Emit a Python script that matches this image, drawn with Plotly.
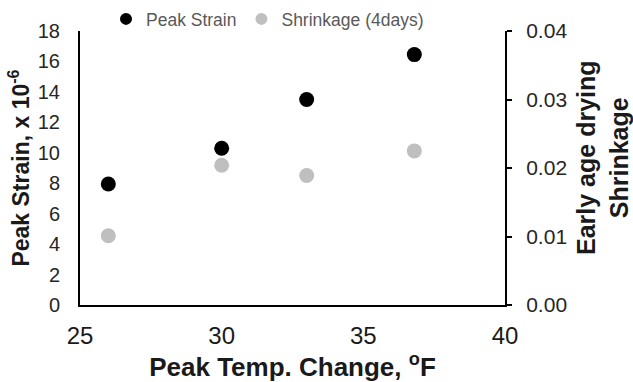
import plotly.graph_objects as go

temp_change = [26, 30, 33, 36.8]
peak_strain = [7.95, 10.3, 13.5, 16.45]
shrinkage = [0.0101, 0.0204, 0.0189, 0.0225]

x_ticks = [25, 30, 35, 40]
left_ticks = list(range(0, 19, 2))
right_ticks = [0.00, 0.01, 0.02, 0.03, 0.04]

fig = go.Figure()
fig.add_trace(go.Scatter(
    x=temp_change, y=peak_strain, mode="markers", name="Peak Strain",
    marker=dict(color="black", size=15), yaxis="y"))
fig.add_trace(go.Scatter(
    x=temp_change, y=shrinkage, mode="markers", name="Shrinkage (4days)",
    marker=dict(color="#BFBFBF", size=15), yaxis="y2"))

ytick_font = dict(family="Liberation Sans, Arial", size=20, color="#262626")
xtick_font = dict(family="Liberation Sans, Arial", size=24, color="#1a1a1a")
title_font = dict(family="Liberation Sans, Arial", size=23, color="#1a1a1a")

fig.update_layout(
    width=633, height=382,
    margin=dict(l=80, r=128, t=31, b=77, autoexpand=False),
    plot_bgcolor="white", paper_bgcolor="white",
    showlegend=True,
    legend=dict(orientation="h", xref="container", yref="container",
                x=106 / 633, xanchor="left", y=1 - 1 / 382, yanchor="top",
                font=dict(family="Liberation Sans, Arial", size=17.5, color="#595959"),
                itemsizing="constant", itemwidth=30,
                bgcolor="rgba(0,0,0,0)"),
    xaxis=dict(range=[25, 40], tickvals=x_ticks, showline=True, linecolor="black", linewidth=2,
               ticks="outside", ticklen=8, tickcolor="rgba(0,0,0,0)", showgrid=False, zeroline=False,
               tickfont=xtick_font,
               title=dict(text="<b>Peak Temp. Change, <sup>o</sup>F</b>", font=dict(title_font, size=26), standoff=0)),
    yaxis=dict(range=[0, 18], tickvals=left_ticks, showline=True, linecolor="black", linewidth=2,
               ticks="outside", ticklen=14, tickcolor="rgba(0,0,0,0)", showgrid=False, zeroline=False,
               tickfont=ytick_font,
               title=dict(text="<b>Peak Strain, x 10<sup>-6</sup></b>", font=title_font, standoff=2)),
    yaxis2=dict(range=[0, 0.04], tickvals=right_ticks, tickformat=".2f", overlaying="y", side="right",
                showline=True, linecolor="black", linewidth=2, ticks="outside", ticklen=5,
                tickwidth=2, tickcolor="black", showgrid=False, zeroline=False,
                tickfont=dict(ytick_font, size=21), ticklabelstandoff=10),
    annotations=[dict(text="<b>Early age drying<br>Shrinkage</b>", xref="paper", yref="paper",
                      x=(602 - 80) / 425, y=(305 - 158) / 274, xanchor="center", yanchor="middle",
                      textangle=-90, showarrow=False, font=dict(title_font, size=25))],
)

fig.write_html("out.html")
